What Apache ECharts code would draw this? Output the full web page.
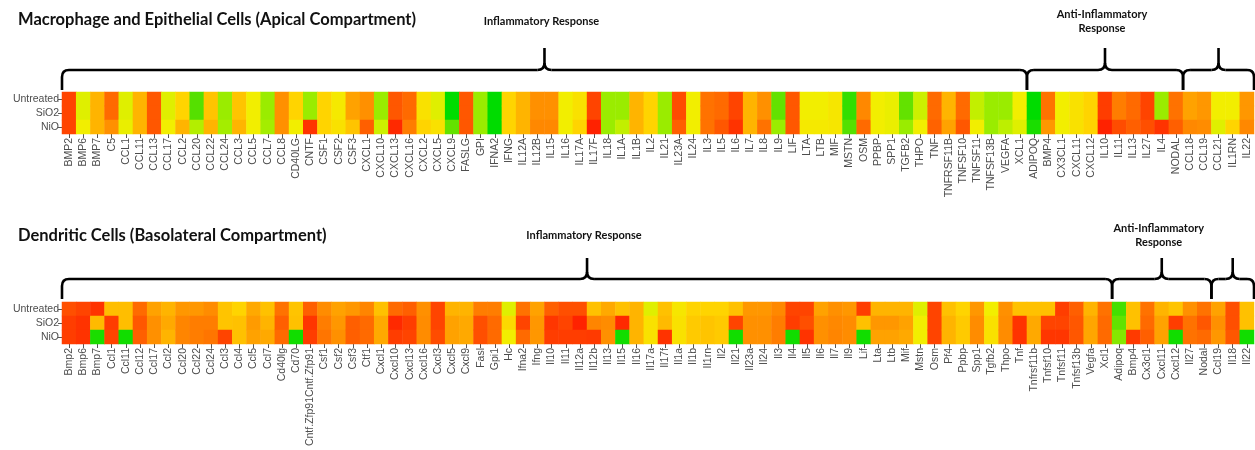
<!DOCTYPE html>
<html lang="en">
<head>
    <meta charset="UTF-8">
    <title>Cytokine heatmaps</title>
    <script type="text/javascript" src="https://cdn.jsdelivr.net/npm/echarts@6/dist/echarts.min.js"></script>
    <style>
        html, body { margin: 0; padding: 0; background: #fff; }
    </style>
</head>
<body>
<div id="main" style="width: 1255px;height:450px;"></div>

<script type="text/javascript">
    // rows, bottom to top
    var rows = ['NiO', 'SiO2', 'Untreated'];

    // apical compartment (macrophage + epithelial)
    var topGenes = ['BMP2', 'BMP6', 'BMP7', 'C5', 'CCL1', 'CCL11', 'CCL13', 'CCL17', 'CCL2', 'CCL20',
        'CCL22', 'CCL24', 'CCL3', 'CCL5', 'CCL7', 'CCL8', 'CD40LG', 'CNTF', 'CSF1', 'CSF2',
        'CSF3', 'CXCL1', 'CXCL10', 'CXCL13', 'CXCL16', 'CXCL2', 'CXCL5', 'CXCL9', 'FASLG', 'GPI',
        'IFNA2', 'IFNG', 'IL12A', 'IL12B', 'IL15', 'IL16', 'IL17A', 'IL17F', 'IL18', 'IL1A',
        'IL1B', 'IL2', 'IL21', 'IL23A', 'IL24', 'IL3', 'IL5', 'IL6', 'IL7', 'IL8',
        'IL9', 'LIF', 'LTA', 'LTB', 'MIF', 'MSTN', 'OSM', 'PPBP', 'SPP1', 'TGFB2',
        'THPO', 'TNF', 'TNFRSF11B', 'TNFSF10', 'TNFSF11', 'TNFSF13B', 'VEGFA', 'XCL1', 'ADIPOQ', 'BMP4',
        'CX3CL1', 'CXCL11', 'CXCL12', 'IL10', 'IL11', 'IL13', 'IL27', 'IL4', 'NODAL', 'CCL18',
        'CCL19', 'CCL21', 'IL1RN', 'IL22'];
    var topUntreated = [9, 3.5, 6, 8, 3.5, 6, 8.5, 3.5, 5, 1,
        5.5, 2, 5.5, 4, 2, 7, 5, 2, 5, 4.2,
        6.5, 7, 2, 8.5, 8, 4.5, 3.5, 0, 8.5, 2,
        0, 5, 6, 7, 7, 4, 4.5, 9, 2, 2,
        6, 5, 2, 8.8, 4, 7.8, 8, 9, 6, 7,
        1.2, 8.5, 4, 4, 4.3, 0.6, 7.2, 4, 3.8, 1.2,
        3, 8, 6, 8, 2.8, 2, 2, 4, 0, 7.8,
        4, 4.5, 5, 9.2, 7.5, 8, 9, 2, 7.8, 6.5,
        6.8, 4, 4, 6.8];
    var topSiO2 = [9, 3.5, 6, 8, 3.5, 6, 8.5, 3.5, 5, 1,
        5.5, 2, 5.5, 4, 2, 7, 5, 2, 5, 4.2,
        6.5, 7, 2, 8.5, 8, 4.5, 3.5, 0, 8.5, 2,
        0, 5, 6, 7, 7, 4, 4.5, 9, 2, 2,
        6, 5, 2, 8.8, 4, 7.8, 8, 9, 6, 7,
        1.2, 8.5, 4, 4, 4.3, 0.6, 7.2, 4, 3.8, 1.2,
        3, 8, 6, 8, 2.8, 2, 2, 4, 0, 7.8,
        4, 4.5, 5, 9.2, 7.5, 8, 9, 2, 7.8, 6.5,
        6.8, 4, 4, 6.8];
    var topNiO = [9, 4, 6, 7, 3.8, 6, 8.5, 4, 6, 2.5,
        6, 2.2, 6, 4, 2.2, 7, 4, 9.5, 5, 4.5,
        5.5, 8.3, 3, 9.8, 7.5, 5, 4.5, 1.2, 8.5, 2,
        0, 5, 6, 7.2, 7.2, 4, 5, 10, 2, 2.8,
        6, 5, 2, 8.3, 4, 7.8, 8.5, 9.5, 6, 7.8,
        2, 8.5, 4.2, 4.2, 4.3, 1, 8, 4, 3.8, 2,
        4, 8.2, 6.5, 8.5, 4, 2, 2.7, 3.5, 0.3, 6.8,
        4, 4.5, 5, 10, 8.8, 8.3, 8.7, 9.5, 8.3, 7.2,
        7.1, 3.5, 5, 7.2];

    // basolateral compartment (dendritic cells)
    var botGenes = ['Bmp2', 'Bmp6', 'Bmp7', 'Ccl1', 'Ccl11', 'Ccl12', 'Ccl17', 'Ccl2', 'Ccl20', 'Ccl22',
        'Ccl24', 'Ccl3', 'Ccl4', 'Ccl5', 'Ccl7', 'Cd40lg', 'Cd70', 'Cntf.Zfp91Cntf.Zfp91', 'Csf1', 'Csf2',
        'Csf3', 'Ctf1', 'Cxcl1', 'Cxcl10', 'Cxcl13', 'Cxcl16', 'Cxcl3', 'Cxcl5', 'Cxcl9', 'Fasl',
        'Gpi1', 'Hc', 'Ifna2', 'Ifng', 'Il10', 'Il11', 'Il12a', 'Il12b', 'Il13', 'Il15',
        'Il16', 'Il17a', 'Il17f', 'Il1a', 'Il1b', 'Il1rn', 'Il2', 'Il21', 'Il23a', 'Il24',
        'Il3', 'Il4', 'Il5', 'Il6', 'Il7', 'Il9', 'Lif', 'Lta', 'Ltb', 'Mif',
        'Mstn', 'Osm', 'Pf4', 'Ppbp', 'Spp1', 'Tgfb2', 'Thpo', 'Tnf', 'Tnfrsf11b', 'Tnfsf10',
        'Tnfsf11', 'Tnfsf13b', 'Vegfa', 'Xcl1', 'Adipoq', 'Bmp4', 'Cx3cl1', 'Cxcl11', 'Cxcl12', 'Il27',
        'Nodal', 'Ccl19', 'Il18', 'Il22'];
    var botUntreated = [8.7, 9, 9.5, 5.7, 5.7, 8, 6.5, 6, 6.8, 6.8,
        7.1, 5.5, 5, 6.3, 5.6, 7.8, 5.5, 8.3, 7.1, 6.5,
        6.8, 7.3, 5.6, 8, 8.3, 7, 9, 6, 6, 7.5,
        7.5, 3.5, 7.8, 6.5, 8.3, 8.7, 8.7, 5.6, 6.3, 5.6,
        6, 3.5, 5.6, 4.3, 5, 5, 5, 5.6, 6.8, 6.8,
        7.2, 9, 9, 6.5, 7, 6.8, 9.2, 6, 6, 6,
        3.5, 9, 5.6, 5, 6.8, 4, 7, 5.6, 5.6, 5.6,
        9.2, 8.3, 6, 7.8, 0.8, 5.6, 7.8, 6, 5.5, 7,
        7.8, 6.5, 8.7, 5.6];
    var botSiO2 = [9.2, 9.5, 5.8, 9.2, 5.7, 8.5, 7, 6.3, 7.3, 7.5,
        7.5, 5.5, 5.6, 6.7, 6, 8.3, 5.6, 9.4, 7.5, 6.8,
        8.3, 8, 6.3, 9.8, 9.2, 7.1, 9, 6.5, 6.3, 8.7,
        8, 4.8, 9, 6.8, 9.4, 9, 10, 7.3, 7.1, 9.8,
        6, 4.5, 5.8, 4.5, 5.3, 5.5, 5.3, 9, 7, 7,
        7.5, 9.2, 8.7, 7, 7.2, 7.1, 5.6, 6.8, 6.8, 6.5,
        4, 9, 6, 5.3, 7.1, 4.5, 7.1, 9.5, 6.3, 9,
        9, 8.5, 6.4, 8, 1.2, 5.6, 8, 6.5, 9.2, 7.8,
        8.5, 7, 8.7, 5.6];
    var botNiO = [9.2, 9.5, 0.3, 9, 0.2, 8.3, 7, 6, 7.3, 7.5,
        7.7, 9, 5.6, 6.5, 6.3, 8, 0.2, 9.2, 7.7, 7,
        8.3, 8, 6.3, 9.2, 9, 7.1, 8.8, 6.5, 6.3, 8.7,
        8, 4, 8, 6.8, 9.2, 9.2, 9.2, 9.3, 7, 0.2,
        6, 4.5, 9.5, 4.5, 5.3, 5.5, 5.3, 0.2, 7, 7,
        7.5, 0.2, 9.5, 7, 7.3, 7.1, 0.2, 6.5, 6.5, 6.3,
        4, 9, 6, 5.3, 7.1, 4.5, 7.1, 9.5, 6.3, 9.4,
        9.4, 8.5, 6.4, 8, 1.7, 9.3, 8.3, 6.5, 0.2, 7.8,
        8, 6.8, 8.5, 0.2];

    // bracket groups: first and last gene of each group
    var topGroups = [['BMP2', 'XCL1', 'Inflammatory Response'], ['ADIPOQ', 'NODAL', 'Anti-Inflammatory\nResponse'], ['CCL18', 'IL22', '']];
    var botGroups = [['Bmp2', 'Xcl1', 'Inflammatory Response'], ['Adipoq', 'Nodal', 'Anti-Inflammatory\nResponse'], ['Ccl19', 'Il22', '']];

    var palette = ['#00dc00', '#55e000', '#9aec00', '#ccf000', '#f2ee00', '#ffd400', '#ffb400', '#ff9000', '#ff6a00', '#ff4400', '#ff2200'];

    function cells(a, b, c) {
        var out = [];
        for (var i = 0; i < a.length; i++) {
            out.push([i, 2, a[i]]);
            out.push([i, 1, b[i]]);
            out.push([i, 0, c[i]]);
        }
        return out;
    }

    var labelFont = 'Liberation Sans, Arial, sans-serif';

    function xAx(gi, data) {
        return {
            type: 'category', gridIndex: gi, data: data,
            axisLine: {show: false},
            axisTick: {show: true, alignWithLabel: true, length: 4, lineStyle: {color: '#555'}},
            axisLabel: {interval: 0, rotate: 90, margin: 4, fontSize: 10.5, color: '#4d4d4d', fontFamily: labelFont},
            splitLine: {show: false}
        };
    }
    function yAx(gi) {
        return {
            type: 'category', gridIndex: gi, data: rows,
            axisLine: {show: false},
            axisTick: {show: true, alignWithLabel: true, length: 4, lineStyle: {color: '#555'}},
            axisLabel: {interval: 0, margin: 3, fontSize: 10.5, color: '#4d4d4d', fontFamily: labelFont},
            splitLine: {show: false}
        };
    }

    var myChart = echarts.init(document.getElementById('main'));

    var option = {
        animation: false,
        grid: [
            {left: 62, top: 92, width: 1192, height: 42},
            {left: 62, top: 302, width: 1192, height: 42}
        ],
        xAxis: [xAx(0, topGenes), xAx(1, botGenes)],
        yAxis: [yAx(0), yAx(1)],
        visualMap: {
            show: false, min: 0, max: 10, dimension: 2, seriesIndex: [0, 1],
            inRange: {color: palette}
        },
        series: [
            {
                type: 'heatmap', xAxisIndex: 0, yAxisIndex: 0,
                data: cells(topUntreated, topSiO2, topNiO),
                itemStyle: {borderWidth: 0},
                emphasis: {disabled: true}
            },
            {
                type: 'heatmap', xAxisIndex: 1, yAxisIndex: 1,
                data: cells(botUntreated, botSiO2, botNiO),
                itemStyle: {borderWidth: 0},
                emphasis: {disabled: true}
            }
        ]
    };
    myChart.setOption(option);

    // curly brackets above the heatmaps, built from lines and quadratic curves
    var braceStyle = {fill: null, stroke: '#000', lineWidth: 2.6};
    function seg(x1, y1, x2, y2) {
        return {type: 'line', shape: {x1: x1, y1: y1, x2: x2, y2: y2}, style: braceStyle};
    }
    function curve(x1, y1, cx, cy, x2, y2) {
        return {type: 'bezierCurve', shape: {x1: x1, y1: y1, cpx1: cx, cpy1: cy, x2: x2, y2: y2}, style: braceStyle};
    }
    function brace(x0, x1, yTop, yLine, yEnd, r) {
        var m = (x0 + x1) / 2;
        return [
            seg(x0, yEnd, x0, yLine + r),
            curve(x0, yLine + r, x0, yLine, x0 + r, yLine),
            seg(x0 + r, yLine, m - r, yLine),
            curve(m - r, yLine, m, yLine, m, yLine - r),
            seg(m, yLine - r, m, yTop),
            curve(m, yLine - r, m, yLine, m + r, yLine),
            seg(m + r, yLine, x1 - r, yLine),
            curve(x1 - r, yLine, x1, yLine, x1, yLine + r),
            seg(x1, yLine + r, x1, yEnd)
        ];
    }

    var graphics = [];
    function addBrackets(axisIdx, genes, groups, yTop, yLine, yEnd, textY) {
        var p0 = myChart.convertToPixel({xAxisIndex: axisIdx}, 0);
        var p1 = myChart.convertToPixel({xAxisIndex: axisIdx}, 1);
        var band = p1 - p0;
        groups.forEach(function (g) {
            var x0 = myChart.convertToPixel({xAxisIndex: axisIdx}, genes.indexOf(g[0])) - band / 2;
            var x1 = myChart.convertToPixel({xAxisIndex: axisIdx}, genes.indexOf(g[1])) + band / 2;
            graphics = graphics.concat(brace(x0, x1, yTop, yLine, yEnd, 7));
            if (g[2]) {
                graphics.push({
                    type: 'text',
                    x: (x0 + x1) / 2 - 3, y: textY,
                    style: {
                        text: g[2], align: 'center', verticalAlign: 'middle', lineHeight: 14,
                        fontSize: 11, fontWeight: 'bold', fontFamily: 'Lato, sans-serif', fill: '#111'
                    }
                });
            }
        });
    }
    addBrackets(0, topGenes, topGroups, 48, 70, 90, 21);
    addBrackets(1, botGenes, botGroups, 258, 279, 299, 235);

    graphics.push({
        type: 'text', x: 18, y: 20,
        style: {
            text: 'Macrophage and Epithelial Cells (Apical Compartment)', verticalAlign: 'middle',
            fontSize: 16.5, fontWeight: 'bold', fontFamily: 'Lato, sans-serif', fill: '#111'
        }
    });
    graphics.push({
        type: 'text', x: 18, y: 236,
        style: {
            text: 'Dendritic Cells (Basolateral Compartment)', verticalAlign: 'middle',
            fontSize: 16.5, fontWeight: 'bold', fontFamily: 'Lato, sans-serif', fill: '#111'
        }
    });

    myChart.setOption({graphic: graphics});
</script>
</body>
</html>
